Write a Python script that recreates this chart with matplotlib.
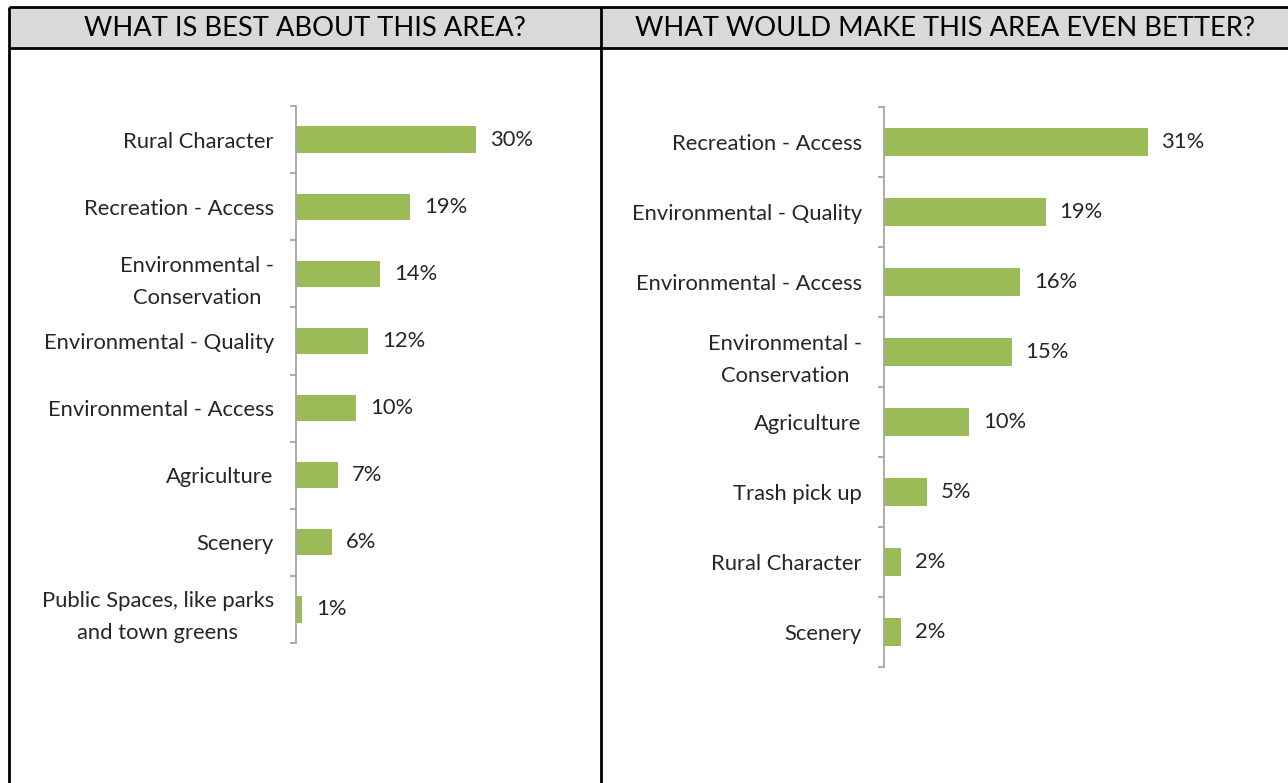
import matplotlib
matplotlib.use("Agg")
import matplotlib.pyplot as plt
from matplotlib.ticker import FixedLocator

plt.rcParams['font.family'] = ['Lato', 'DejaVu Sans']

left_title = "WHAT IS BEST ABOUT THIS AREA?"
right_title = "WHAT WOULD MAKE THIS AREA EVEN BETTER?"

left_categories = ["Rural Character", "Recreation - Access", "Environmental -\nConservation",
                   "Environmental - Quality", "Environmental - Access", "Agriculture",
                   "Scenery", "Public Spaces, like parks\nand town greens"]
left_values = [30, 19, 14, 12, 10, 7, 6, 1]

right_categories = ["Recreation - Access", "Environmental - Quality", "Environmental - Access",
                    "Environmental -\nConservation", "Agriculture", "Trash pick up",
                    "Rural Character", "Scenery"]
right_values = [31, 19, 16, 15, 10, 5, 2, 2]

W, H = 1288, 783
DPI = 100
fig = plt.figure(figsize=(W / DPI, H / DPI), dpi=DPI)
fig.patch.set_facecolor("white")

# background table
bg = fig.add_axes([0, 0, 1, 1])
bg.set_xlim(0, W)
bg.set_ylim(H, 0)
bg.axis("off")
bg.fill_between([9, W + 5], 7, 48, color="#d9d9d9", lw=0)
lw = 2.0
bg.plot([9, W + 5], [7, 7], color="black", lw=lw, solid_capstyle="butt")
bg.plot([9, W + 5], [48, 48], color="black", lw=lw, solid_capstyle="butt")
bg.plot([9, 9], [7, H + 5], color="black", lw=lw, solid_capstyle="butt")
bg.plot([601, 601], [7, H + 5], color="black", lw=lw, solid_capstyle="butt")
bg.text(305, 28, left_title, ha="center", va="center", fontsize=19.7, color="black")
bg.text(945, 28, right_title, ha="center", va="center", fontsize=19.7, color="black")

green = "#9bbb59"
axis_gray = "#a6a6a6"
text_col = "#262626"
fs = 15.8


def draw(x0, ytop, ybot, xmax, pxper, cats, vals):
    width_px = xmax * pxper
    ax = fig.add_axes([x0 / W, (H - ybot) / H, width_px / W, (ybot - ytop) / H])
    n = len(cats)
    ypos = list(range(n))
    ax.barh(ypos, vals, height=0.39, color=green, edgecolor="none")
    ax.set_ylim(n - 0.5, -0.5)
    ax.set_xlim(0, xmax)
    for s in ["top", "right", "bottom"]:
        ax.spines[s].set_visible(False)
    ax.spines["left"].set_color(axis_gray)
    ax.spines["left"].set_linewidth(1.3)
    ax.set_xticks([])
    ax.set_yticks(ypos)
    ax.set_yticklabels(cats, fontsize=fs, color=text_col, multialignment="center",
                       linespacing=1.75)
    ax.tick_params(axis="y", which="major", length=0, pad=16)
    ax.yaxis.set_minor_locator(FixedLocator([i - 0.5 for i in range(n + 1)]))
    ax.tick_params(axis="y", which="minor", length=4, width=1.3, color=axis_gray,
                   direction="out")
    for y, v in zip(ypos, vals):
        ax.annotate(f"{v}%", xy=(v, y), xytext=(10, 0), textcoords="offset points",
                    ha="left", va="center", fontsize=fs, color=text_col)
    ax.patch.set_alpha(0)
    return ax


draw(296, 106, 643, 50, 6.0, left_categories, left_values)
draw(884, 107, 667, 42, 8.5, right_categories, right_values)

fig.savefig("out.png", dpi=DPI)
